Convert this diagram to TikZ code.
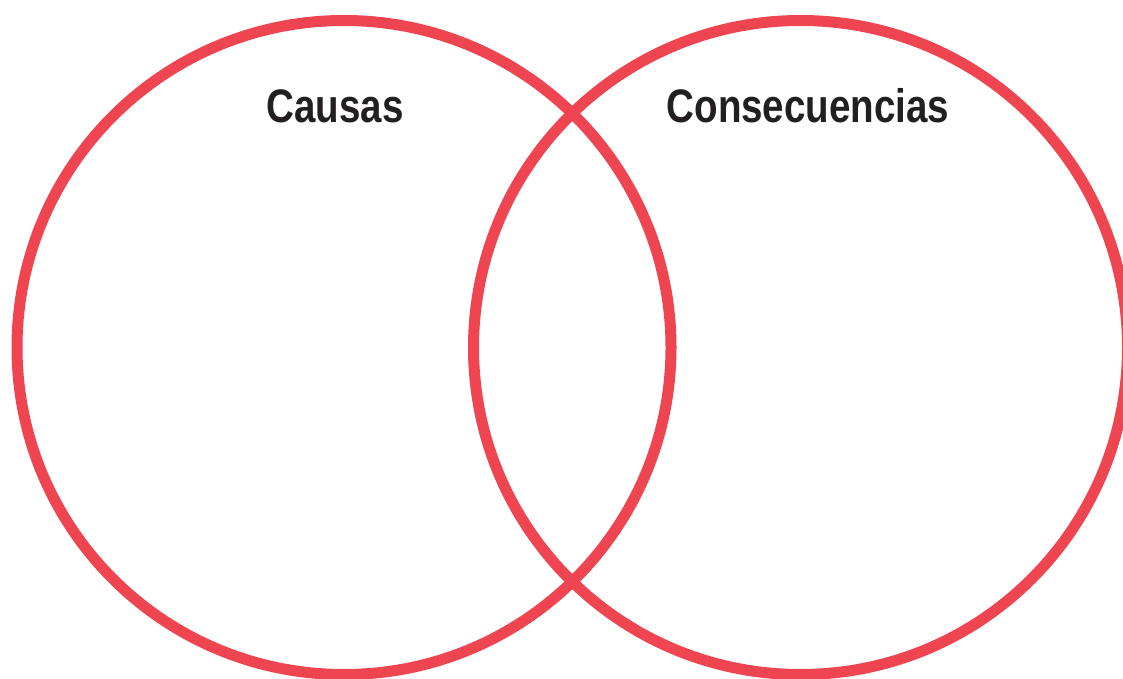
\documentclass[tikz,border=0pt]{standalone}
\usepackage{fontspec}
\newfontfamily\headfont[FakeStretch=0.82]{Liberation Sans}
\usepackage{xcolor}
\definecolor{vennred}{RGB}{239,69,80}
\definecolor{labelgray}{RGB}{35,31,32}

\begin{document}
\begin{tikzpicture}[
  x=1pt, y=-1pt,
  ring/.style={circle, draw=vennred, line width=11pt, minimum size=654pt, inner sep=0pt},
  head/.style={font=\headfont\bfseries\fontsize{47}{47}\selectfont, text=labelgray, anchor=base, inner sep=0pt}
]
\useasboundingbox (0,0) rectangle (1123,679);
\node[ring] (causas) at (344,347.5) {};
\node[ring] (consec) at (800.5,347.5) {};
\node[head] (causaslabel) at (335,122.5) {Causas};
\node[head] (conseclabel) at (808,122.5) {Consecuencias};
\end{tikzpicture}
\end{document}
